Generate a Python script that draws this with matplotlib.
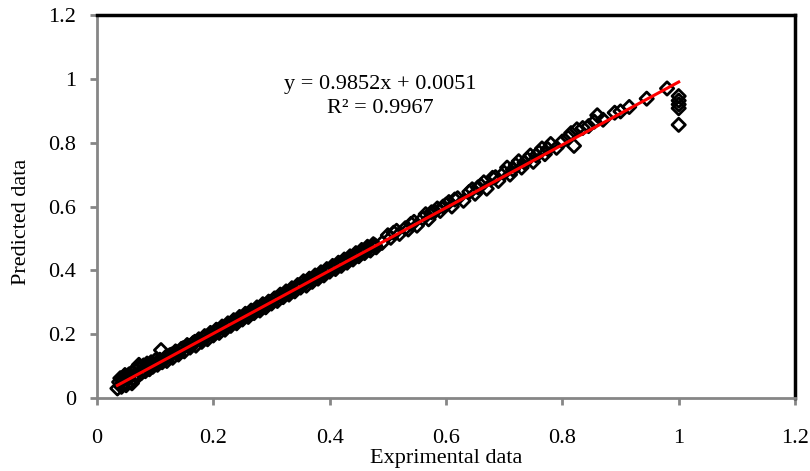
"""Predicted vs experimental scatter with linear trend line."""

import matplotlib.pyplot as plt

plt.rcParams["font.family"] = ["Liberation Serif", "DejaVu Serif"]

experimental = [
    0.035, 0.038, 0.040, 0.042, 0.045, 0.047, 0.050, 0.052, 0.055, 0.058,
    0.060, 0.063, 0.066, 0.070, 0.073, 0.076, 0.080, 0.083, 0.086, 0.090,
    0.093, 0.096, 0.100, 0.104, 0.108, 0.112, 0.116, 0.120, 0.125, 0.130,
    0.135, 0.140, 0.145, 0.150, 0.155, 0.160, 0.165, 0.170, 0.175, 0.180,
    0.185, 0.190, 0.195, 0.200, 0.205, 0.210, 0.215, 0.220, 0.225, 0.230,
    0.235, 0.240, 0.245, 0.250, 0.255, 0.260, 0.265, 0.270, 0.275, 0.280,
    0.285, 0.290, 0.295, 0.300, 0.305, 0.310, 0.315, 0.320, 0.325, 0.330,
    0.335, 0.340, 0.345, 0.350, 0.355, 0.360, 0.365, 0.370, 0.375, 0.380,
    0.385, 0.390, 0.395, 0.400, 0.405, 0.410, 0.415, 0.420, 0.425, 0.430,
    0.435, 0.440, 0.445, 0.450, 0.455, 0.460, 0.465, 0.470, 0.475, 0.480,
    0.490, 0.500, 0.505, 0.510, 0.520, 0.530, 0.535, 0.540, 0.550, 0.560,
    0.565, 0.570, 0.580, 0.585, 0.590, 0.600, 0.605, 0.610, 0.620, 0.630,
    0.640, 0.645, 0.650, 0.660, 0.665, 0.670, 0.680, 0.690, 0.700, 0.705,
    0.710, 0.720, 0.725, 0.730, 0.740, 0.745, 0.750, 0.760, 0.765, 0.770,
    0.780, 0.790, 0.800, 0.810, 0.815, 0.820, 0.825, 0.835, 0.845, 0.855,
    0.860, 0.870, 0.890, 0.900, 0.915, 0.945, 0.980, 1.000, 1.000, 1.000,
    1.000, 1.000, 0.060, 0.110, 0.048, 0.072,
    0.044, 0.054, 0.065, 0.078, 0.088, 0.098, 0.118, 0.128, 0.138, 0.148,
    0.158, 0.168, 0.178, 0.188, 0.198, 0.208, 0.218, 0.228, 0.238, 0.248,
    0.258, 0.268, 0.278, 0.288, 0.298, 0.308, 0.318, 0.328, 0.338, 0.348,
    0.358, 0.368, 0.378, 0.388, 0.398, 0.408, 0.418, 0.428, 0.438, 0.448,
    0.458, 0.468, 0.478, 0.515, 0.545, 0.575, 0.595, 0.615, 0.655, 0.685,
    0.715, 0.735, 0.755, 0.775,
]
predicted = [
    0.030, 0.050, 0.062, 0.035, 0.055, 0.068, 0.040, 0.066, 0.074, 0.052,
    0.080, 0.062, 0.088, 0.068, 0.096, 0.078, 0.102, 0.084, 0.108, 0.090,
    0.112, 0.098, 0.118, 0.104, 0.120, 0.112, 0.122, 0.116, 0.134, 0.126,
    0.146, 0.136, 0.154, 0.146, 0.166, 0.158, 0.172, 0.164, 0.184, 0.176,
    0.194, 0.184, 0.204, 0.196, 0.214, 0.204, 0.224, 0.214, 0.234, 0.226,
    0.244, 0.234, 0.254, 0.246, 0.264, 0.254, 0.274, 0.266, 0.284, 0.274,
    0.294, 0.284, 0.302, 0.296, 0.312, 0.304, 0.324, 0.316, 0.334, 0.324,
    0.344, 0.334, 0.354, 0.346, 0.366, 0.352, 0.374, 0.364, 0.384, 0.374,
    0.394, 0.384, 0.404, 0.396, 0.414, 0.404, 0.424, 0.414, 0.434, 0.424,
    0.444, 0.434, 0.454, 0.444, 0.464, 0.454, 0.474, 0.462, 0.482, 0.472,
    0.486, 0.510, 0.502, 0.518, 0.514, 0.532, 0.528, 0.546, 0.540, 0.562,
    0.576, 0.560, 0.584, 0.594, 0.586, 0.606, 0.614, 0.600, 0.626, 0.618,
    0.646, 0.654, 0.640, 0.666, 0.676, 0.656, 0.690, 0.680, 0.706, 0.722,
    0.700, 0.730, 0.742, 0.722, 0.748, 0.760, 0.740, 0.770, 0.782, 0.764,
    0.796, 0.784, 0.804, 0.816, 0.830, 0.790, 0.842, 0.846, 0.852, 0.866,
    0.886, 0.872, 0.894, 0.898, 0.912, 0.938, 0.970, 0.946, 0.932, 0.920,
    0.908, 0.856, 0.046, 0.150, 0.072, 0.104,
    0.042, 0.060, 0.072, 0.088, 0.096, 0.106, 0.128, 0.136, 0.142, 0.156,
    0.162, 0.176, 0.180, 0.192, 0.200, 0.212, 0.220, 0.230, 0.240, 0.250,
    0.260, 0.270, 0.280, 0.290, 0.300, 0.312, 0.320, 0.330, 0.340, 0.350,
    0.360, 0.370, 0.380, 0.390, 0.400, 0.410, 0.420, 0.430, 0.440, 0.450,
    0.460, 0.470, 0.478, 0.524, 0.552, 0.582, 0.600, 0.622, 0.660, 0.692,
    0.716, 0.738, 0.760, 0.780,
]

slope = 0.9852
intercept = 0.0051
r_squared = 0.9967

fig = plt.figure(figsize=(8.1, 4.71), dpi=100)
ax = fig.add_axes([0.1198, 0.155, 0.8617, 0.813])

ax.scatter(experimental, predicted, marker="D", s=46, facecolors="none",
           edgecolors="black", linewidths=2.0, zorder=2)

x_fit = [min(experimental), max(experimental)]
y_fit = [slope * v + intercept for v in x_fit]
ax.plot(x_fit, y_fit, color="#ff0000", linewidth=2.2, zorder=3)

ax.text(0.487, 0.945, f"y = {slope}x + {intercept}\nR\u00b2 = {r_squared}",
        ha="center", va="center", fontsize=16, linespacing=1.3)

ax.set_xlim(0, 1.2)
ax.set_ylim(0, 1.2)
ax.set_xticks([0, 0.2, 0.4, 0.6, 0.8, 1, 1.2])
ax.set_xticklabels(["0", "0.2", "0.4", "0.6", "0.8", "1", "1.2"])
ax.set_yticks([0, 0.2, 0.4, 0.6, 0.8, 1, 1.2])
ax.set_yticklabels(["0", "0.2", "0.4", "0.6", "0.8", "1", "1.2"])
ax.tick_params(axis="both", direction="out", length=5, width=2,
               color="#868686", labelsize=16)
ax.tick_params(axis="x", pad=17)
ax.tick_params(axis="y", pad=10)

for side in ("left", "bottom"):
    ax.spines[side].set_color("#868686")
    ax.spines[side].set_linewidth(2)
for side in ("top", "right"):
    ax.spines[side].set_color("black")
    ax.spines[side].set_linewidth(2.5)

ax.set_xlabel("Exprimental data", fontsize=16)
ax.set_ylabel("Predicted data", fontsize=16)
ax.xaxis.set_label_coords(0.5, -0.132)
ax.yaxis.set_label_coords(-0.095, 0.46)

fig.savefig("out.png", dpi=100)
